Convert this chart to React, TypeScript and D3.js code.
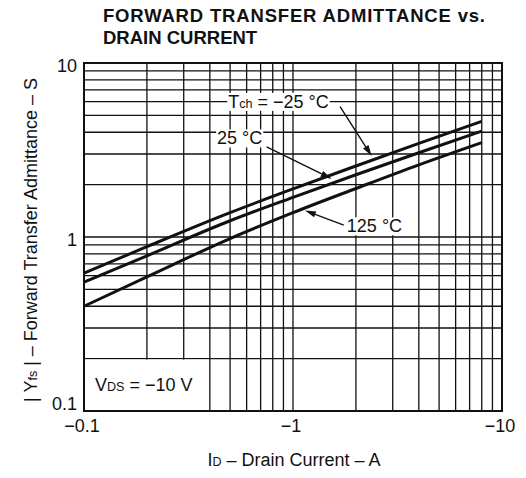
import React, { useEffect, useRef } from "react";
import * as d3 from "d3";

const W = 526;
const H = 478;

// Drain current magnitude (A) and |Yfs| (S) per channel temperature
const idValues = [0.1, 0.2, 0.5, 1, 2, 4, 8];
const yfsMinus25 = [0.62, 0.88, 1.38, 1.89, 2.56, 3.45, 4.62];
const yfs25 = [0.55, 0.78, 1.24, 1.69, 2.28, 3.05, 4.06];
const yfs125 = [0.4, 0.59, 0.98, 1.38, 1.9, 2.6, 3.49];

const xTickValues = [0.1, 1, 10];
const xTickLabels = ["\u22120.1", "\u22121", "\u221210"];
const yTickValues = [0.1, 1, 10];
const yTickLabels = ["0.1", "1", "10"];

const FONT = "'Liberation Sans', Arial, Helvetica, sans-serif";

export default function App() {
  const ref = useRef<SVGSVGElement | null>(null);

  useEffect(() => {
    const svg = d3.select(ref.current);
    svg.selectAll("*").remove();

    const left = 84, right = 502, top = 63, bottom = 411;
    const x = d3.scaleLog().domain([0.1, 10]).range([left, right]);
    const y = d3.scaleLog().domain([0.1, 10]).range([bottom, top]);

    svg.append("rect").attr("width", W).attr("height", H).attr("fill", "#fff");

    // Title
    const title = svg.append("text")
      .attr("font-family", FONT).attr("font-weight", "bold").attr("font-size", 18.5)
      .attr("fill", "#111");
    title.append("tspan").attr("x", 103).attr("y", 22).attr("textLength", 382)
      .attr("lengthAdjust", "spacing").text("FORWARD TRANSFER ADMITTANCE vs.");
    title.append("tspan").attr("x", 103).attr("y", 44).text("DRAIN CURRENT");

    // grid
    const gridVals: number[] = [];
    [0.1, 1].forEach((d) => { for (let k = 2; k <= 9; k++) gridVals.push(d * k); });
    const g = svg.append("g").attr("stroke", "#111").attr("stroke-width", 1.3);
    gridVals.concat([1]).forEach((v) => {
      g.append("line").attr("x1", x(v)).attr("x2", x(v)).attr("y1", top).attr("y2", bottom);
      g.append("line").attr("x1", left).attr("x2", right).attr("y1", y(v)).attr("y2", y(v));
    });

    // VDS box (white area bounded by gridlines)
    svg.append("rect")
      .attr("x", left + 1).attr("y", y(0.2) + 1)
      .attr("width", x(0.4) - left - 2).attr("height", bottom - y(0.2) - 2)
      .attr("fill", "#fff");

    // frame
    svg.append("rect").attr("x", left).attr("y", top)
      .attr("width", right - left).attr("height", bottom - top)
      .attr("fill", "none").attr("stroke", "#111").attr("stroke-width", 2);

    // curves
    const line = d3.line<[number, number]>()
      .x((d) => x(d[0])).y((d) => y(d[1]))
      .curve(d3.curveMonotoneX);
    [yfsMinus25, yfs25, yfs125].forEach((series) => {
      const pts = idValues.map((v, i) => [v, series[i]] as [number, number]);
      svg.append("path").attr("d", line(pts) as string)
        .attr("fill", "none").attr("stroke", "#111").attr("stroke-width", 3)
        .attr("stroke-linecap", "butt");
    });

    // labels with white backgrounds
    const label = (px: number, py: number, parts: { t: string; sub?: boolean }[]) => {
      const grp = svg.append("g");
      const bg = grp.append("rect").attr("fill", "#fff");
      const txt = grp.append("text")
        .attr("font-family", FONT).attr("font-size", 18).attr("fill", "#111")
        .attr("x", px).attr("y", py).attr("dy", "0.35em");
      parts.forEach((p) => {
        const ts = txt.append("tspan").text(p.t);
        if (p.sub) ts.attr("font-size", 12.5);
      });
      const bb = (txt.node() as SVGTextElement).getBBox();
      bg.attr("x", bb.x - 1).attr("y", bb.y + 1).attr("width", bb.width + 2).attr("height", bb.height - 2);
      return grp;
    };

    label(x(0.49), y(6), [{ t: "T" }, { t: "ch", sub: true }, { t: " = \u221225 \u00B0C" }]);
    label(x(0.433), y(3.7), [{ t: "25 \u00B0C" }]);
    label(x(1.81), y(1.156), [{ t: "125 \u00B0C" }]);
    label(x(0.113), y(0.141), [{ t: "V" }, { t: "DS", sub: true }, { t: " = \u221210 V" }]);

    // arrows
    const arrow = (x0: number, y0: number, x1: number, y1: number) => {
      const ax = x(x0), ay = y(y0), bx = x(x1), by = y(y1);
      const ang = Math.atan2(by - ay, bx - ax);
      const L = 11, hw = 3.2;
      const baseX = bx - L * Math.cos(ang), baseY = by - L * Math.sin(ang);
      svg.append("line").attr("x1", ax).attr("y1", ay).attr("x2", baseX).attr("y2", baseY)
        .attr("stroke", "#111").attr("stroke-width", 1.4);
      const p1 = [baseX + hw * Math.sin(ang), baseY - hw * Math.cos(ang)];
      const p2 = [baseX - hw * Math.sin(ang), baseY + hw * Math.cos(ang)];
      svg.append("polygon")
        .attr("points", `${bx},${by} ${p1[0]},${p1[1]} ${p2[0]},${p2[1]}`)
        .attr("fill", "#111");
    };
    arrow(1.68, 5.61, 2.38, 2.92);
    arrow(0.748, 3.3, 1.53, 2.16);
    arrow(1.75, 1.17, 1.14, 1.42);

    // tick labels
    const tl = svg.append("g").attr("font-family", FONT).attr("font-size", 18).attr("fill", "#111");
    yTickValues.forEach((v, i) => {
      let cy = y(v);
      if (v === 10) cy += 3;
      if (v === 1) cy += 3;
      if (v === 0.1) cy -= 7;
      tl.append("text").attr("x", 77).attr("y", cy).attr("dy", "0.35em")
        .attr("text-anchor", "end").text(yTickLabels[i]);
    });
    xTickValues.forEach((v, i) => {
      tl.append("text").attr("x", x(v) - 2).attr("y", 432)
        .attr("text-anchor", "middle").text(xTickLabels[i]);
    });

    // axis titles
    const xt = svg.append("text").attr("font-family", FONT).attr("font-size", 18).attr("fill", "#111")
      .attr("x", (left + right) / 2 + 1).attr("y", 466).attr("text-anchor", "middle");
    xt.append("tspan").text("I");
    xt.append("tspan").attr("font-size", 12.5).text("D");
    xt.append("tspan").text(" \u2013 Drain Current \u2013 A");

    const yt = svg.append("text").attr("font-family", FONT).attr("font-size", 18).attr("fill", "#111")
      .attr("text-anchor", "middle")
      .attr("transform", `translate(37, ${(top + bottom) / 2 + 3}) rotate(-90)`);
    yt.append("tspan").text("| Y");
    yt.append("tspan").attr("font-size", 12.5).text("fs");
    yt.append("tspan").text(" | \u2013 Forward Transfer Admittance \u2013 S");
  }, []);

  return (
    <svg
      ref={ref}
      width={W}
      height={H}
      style={{ position: "absolute", left: 0, top: 0, display: "block" }}
    />
  );
}
